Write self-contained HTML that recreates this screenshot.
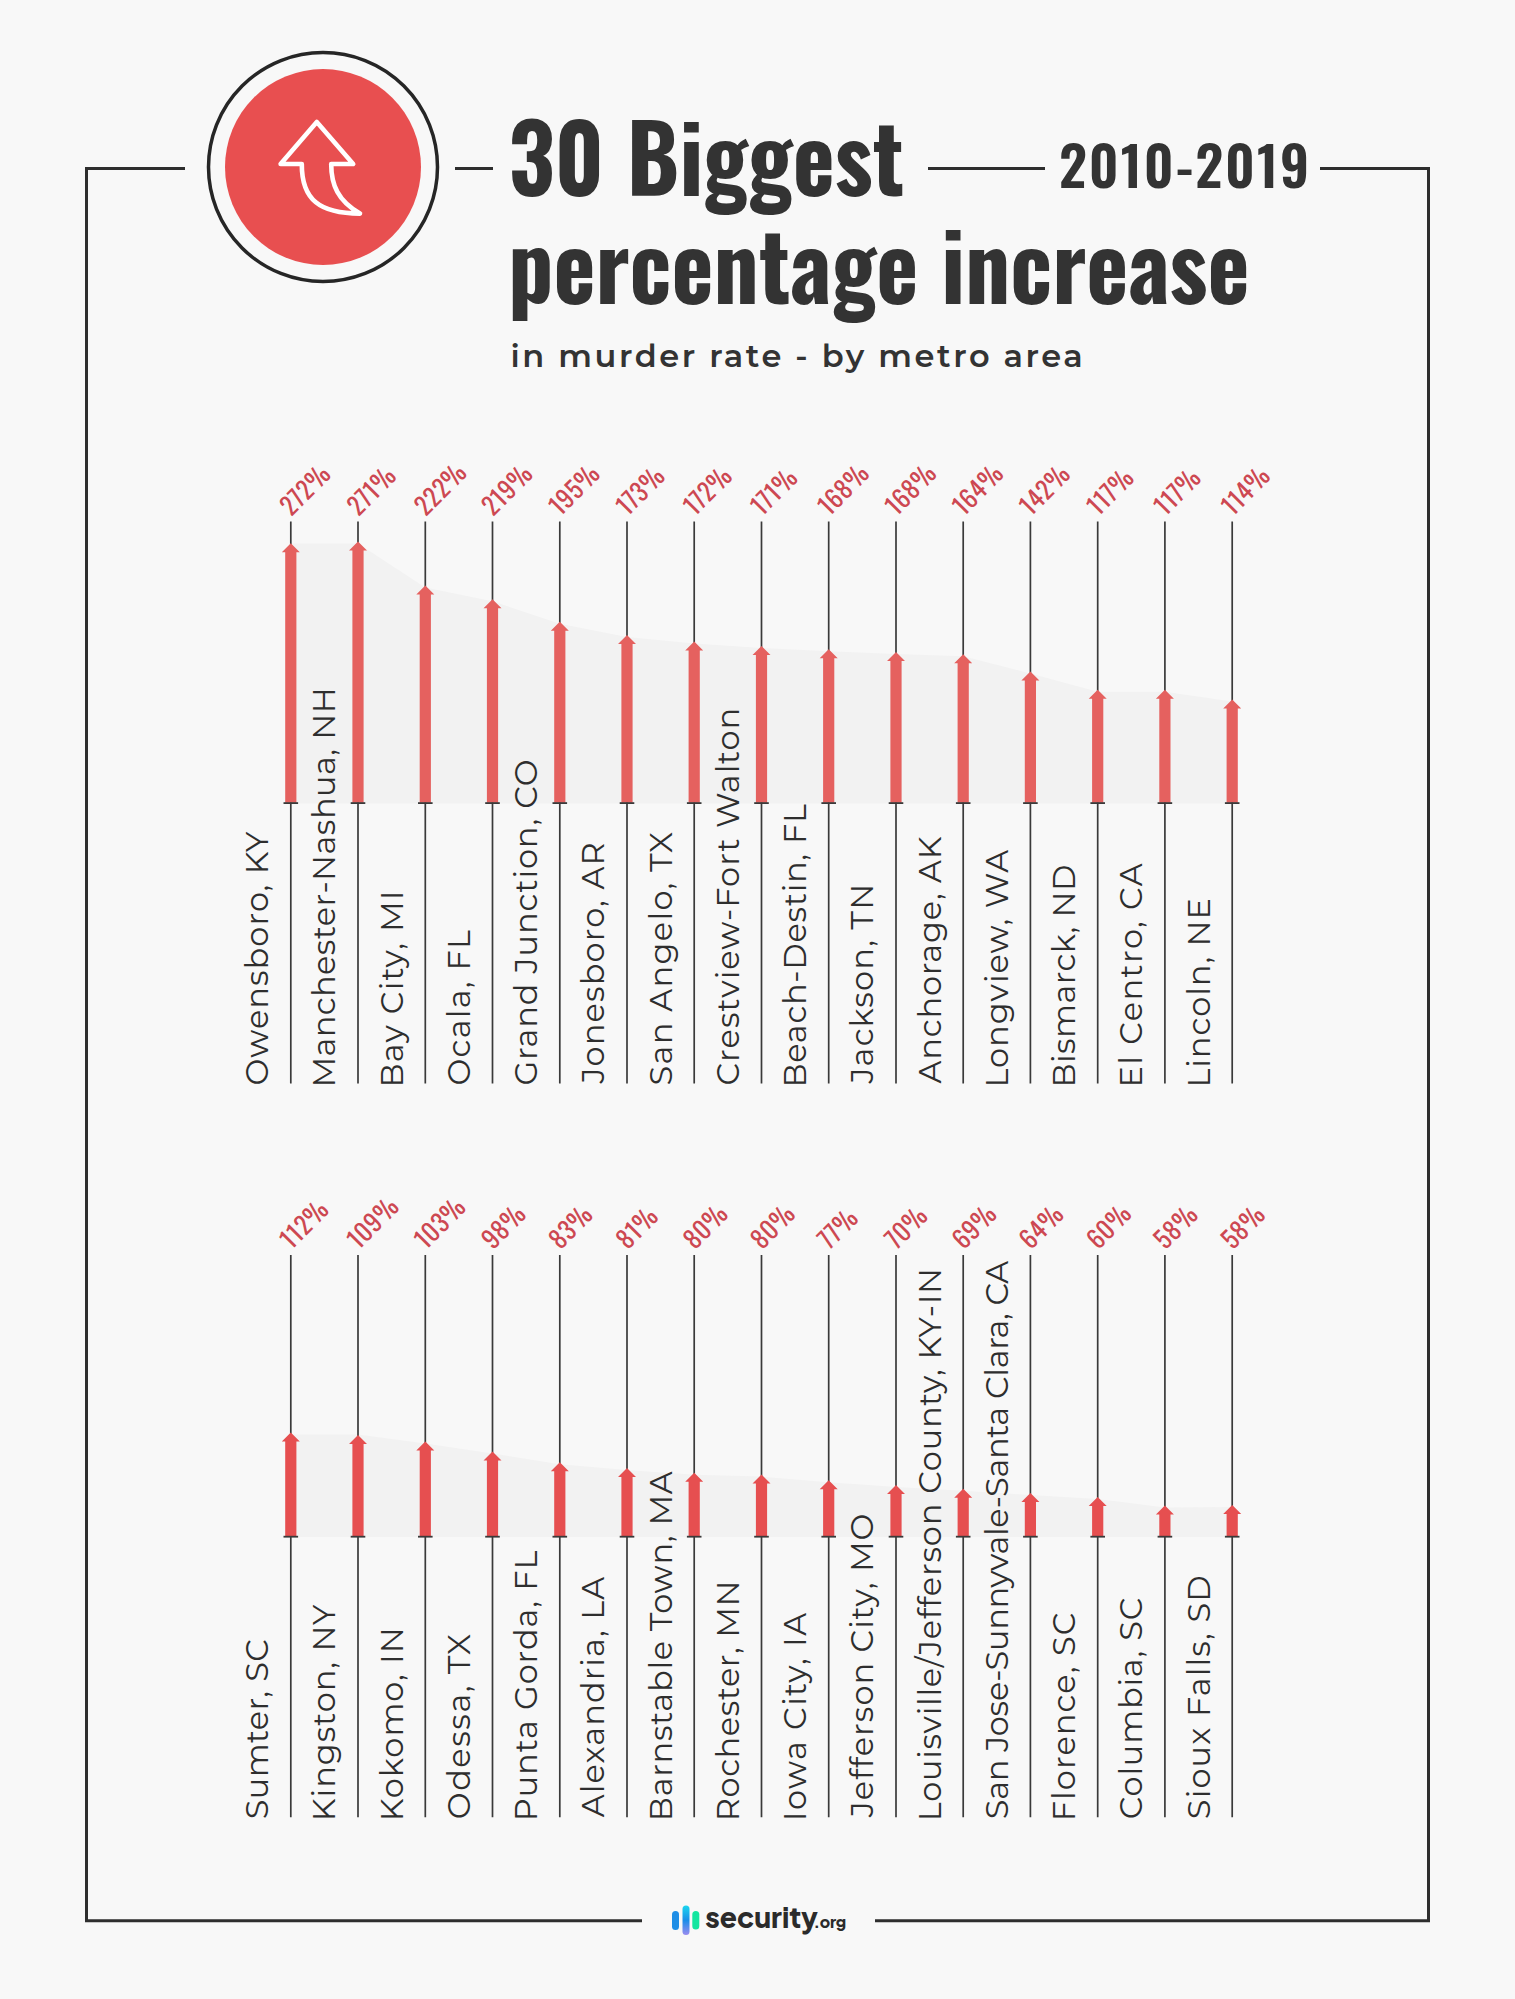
<!DOCTYPE html>
<html><head><meta charset="utf-8"><title>30 Biggest percentage increase in murder rate</title>
<style>
html,body{margin:0;padding:0;background:#f8f8f8;}
body{width:1515px;height:1999px;overflow:hidden;position:relative;}
svg{position:absolute;left:0;top:0;}
.t{font-family:"Oswald","Liberation Sans Narrow","Liberation Sans",sans-serif;font-weight:700;fill:#333333;}
.yr{font-family:"Oswald","Liberation Sans Narrow","Liberation Sans",sans-serif;font-weight:600;fill:#333333;}
.sub{font-family:"Montserrat","Liberation Sans",sans-serif;font-weight:600;fill:#333333;}
.lab{font-family:"Montserrat","Liberation Sans",sans-serif;font-weight:400;font-size:32px;fill:#2e2e2e;}
.pct{font-family:"Oswald","Liberation Sans Narrow","Liberation Sans",sans-serif;font-weight:430;font-size:25px;letter-spacing:0.6px;fill:#cd4852;}
.logo{font-family:"Plus Jakarta Sans","Montserrat","Liberation Sans",sans-serif;font-weight:800;fill:#2b2b2b;}
</style></head>
<body>
<svg width="1515" height="1999" viewBox="0 0 1515 1999">
<defs>
<linearGradient id="g2" x1="0" y1="0" x2="0" y2="1">
<stop offset="0" stop-color="#1bd6ef"/><stop offset="0.5" stop-color="#1a8ee8"/><stop offset="1" stop-color="#9b8cf0"/>
</linearGradient>
</defs>
<!-- frame -->
<path d="M185,168.5 H86.5 V1920.8 H642" fill="none" stroke="#2e2e2e" stroke-width="3"/>
<path d="M875,1920.8 H1428.5 V168.5 H1320" fill="none" stroke="#2e2e2e" stroke-width="3"/>
<line x1="455" y1="168.5" x2="493" y2="168.5" stroke="#2e2e2e" stroke-width="3"/>
<line x1="928" y1="168.5" x2="1045" y2="168.5" stroke="#2e2e2e" stroke-width="3"/>
<!-- icon -->
<circle cx="323" cy="167" r="114.5" fill="none" stroke="#262626" stroke-width="3.5"/>
<circle cx="323" cy="167" r="98" fill="#e84f50"/>
<path d="M316.8,122 L353.2,164 L331.2,164 C331.2,185 338,201 360,213.6 C320,213.6 301.6,200 301.8,164 L280.6,164 Z" fill="none" stroke="#ffffff" stroke-width="4.6" stroke-linejoin="round"/>
<!-- title -->
<text class="t" transform="translate(508.7,195.6)" font-size="93" textLength="395.35" lengthAdjust="spacingAndGlyphs">30 Biggest</text>
<text class="yr" x="1059" y="188.4" font-size="55" letter-spacing="2" textLength="252.25" lengthAdjust="spacingAndGlyphs">2010-2019</text>
<text class="t" transform="translate(508.2,304)" font-size="93" textLength="741.33" lengthAdjust="spacingAndGlyphs">percentage increase</text>
<text class="sub" x="510.5" y="366.6" font-size="32" letter-spacing="2.59" textLength="574.83" lengthAdjust="spacingAndGlyphs">in murder rate - by metro area</text>
<path d="M290.8,543.6 L358.0,543.6 L425.3,587.4 L492.5,601.3 L559.8,623.7 L627.0,637.0 L694.2,643.6 L761.5,648.0 L828.7,651.2 L896.0,653.9 L963.2,656.3 L1030.4,673.5 L1097.7,691.7 L1164.9,691.7 L1232.2,701.6 L1232.2,803.5 L290.8,803.5 Z" fill="#f2f2f2"/>
<line x1="290.8" y1="521.5" x2="290.8" y2="1083.6" stroke="#3a3a3a" stroke-width="1.7"/>
<line x1="358.0" y1="521.5" x2="358.0" y2="1083.6" stroke="#3a3a3a" stroke-width="1.7"/>
<line x1="425.3" y1="521.5" x2="425.3" y2="1083.6" stroke="#3a3a3a" stroke-width="1.7"/>
<line x1="492.5" y1="521.5" x2="492.5" y2="1083.6" stroke="#3a3a3a" stroke-width="1.7"/>
<line x1="559.8" y1="521.5" x2="559.8" y2="1083.6" stroke="#3a3a3a" stroke-width="1.7"/>
<line x1="627.0" y1="521.5" x2="627.0" y2="1083.6" stroke="#3a3a3a" stroke-width="1.7"/>
<line x1="694.2" y1="521.5" x2="694.2" y2="1083.6" stroke="#3a3a3a" stroke-width="1.7"/>
<line x1="761.5" y1="521.5" x2="761.5" y2="1083.6" stroke="#3a3a3a" stroke-width="1.7"/>
<line x1="828.7" y1="521.5" x2="828.7" y2="1083.6" stroke="#3a3a3a" stroke-width="1.7"/>
<line x1="896.0" y1="521.5" x2="896.0" y2="1083.6" stroke="#3a3a3a" stroke-width="1.7"/>
<line x1="963.2" y1="521.5" x2="963.2" y2="1083.6" stroke="#3a3a3a" stroke-width="1.7"/>
<line x1="1030.4" y1="521.5" x2="1030.4" y2="1083.6" stroke="#3a3a3a" stroke-width="1.7"/>
<line x1="1097.7" y1="521.5" x2="1097.7" y2="1083.6" stroke="#3a3a3a" stroke-width="1.7"/>
<line x1="1164.9" y1="521.5" x2="1164.9" y2="1083.6" stroke="#3a3a3a" stroke-width="1.7"/>
<line x1="1232.2" y1="521.5" x2="1232.2" y2="1083.6" stroke="#3a3a3a" stroke-width="1.7"/>
<path d="M290.8,543.2 L299.8,552.2 L296.4,552.2 L296.4,802.7 L285.2,802.7 L285.2,552.2 L281.8,552.2 Z" fill="#e5615f"/>
<rect x="283.5" y="802.2" width="14.6" height="1.8" fill="#3a3a3a"/>
<path d="M358.0,541.6 L367.0,550.6 L363.6,550.6 L363.6,802.7 L352.4,802.7 L352.4,550.6 L349.0,550.6 Z" fill="#e5615f"/>
<rect x="350.7" y="802.2" width="14.6" height="1.8" fill="#3a3a3a"/>
<path d="M425.3,585.4 L434.3,594.4 L430.9,594.4 L430.9,802.7 L419.7,802.7 L419.7,594.4 L416.3,594.4 Z" fill="#e5615f"/>
<rect x="418.0" y="802.2" width="14.6" height="1.8" fill="#3a3a3a"/>
<path d="M492.5,599.3 L501.5,608.3 L498.1,608.3 L498.1,802.7 L486.9,802.7 L486.9,608.3 L483.5,608.3 Z" fill="#e5615f"/>
<rect x="485.2" y="802.2" width="14.6" height="1.8" fill="#3a3a3a"/>
<path d="M559.8,621.7 L568.8,630.7 L565.4,630.7 L565.4,802.7 L554.2,802.7 L554.2,630.7 L550.8,630.7 Z" fill="#e5615f"/>
<rect x="552.5" y="802.2" width="14.6" height="1.8" fill="#3a3a3a"/>
<path d="M627.0,635.0 L636.0,644.0 L632.6,644.0 L632.6,802.7 L621.4,802.7 L621.4,644.0 L618.0,644.0 Z" fill="#e5615f"/>
<rect x="619.7" y="802.2" width="14.6" height="1.8" fill="#3a3a3a"/>
<path d="M694.2,641.6 L703.2,650.6 L699.8,650.6 L699.8,802.7 L688.6,802.7 L688.6,650.6 L685.2,650.6 Z" fill="#e5615f"/>
<rect x="686.9" y="802.2" width="14.6" height="1.8" fill="#3a3a3a"/>
<path d="M761.5,646.0 L770.5,655.0 L767.1,655.0 L767.1,802.7 L755.9,802.7 L755.9,655.0 L752.5,655.0 Z" fill="#e5615f"/>
<rect x="754.2" y="802.2" width="14.6" height="1.8" fill="#3a3a3a"/>
<path d="M828.7,649.2 L837.7,658.2 L834.3,658.2 L834.3,802.7 L823.1,802.7 L823.1,658.2 L819.7,658.2 Z" fill="#e5615f"/>
<rect x="821.4" y="802.2" width="14.6" height="1.8" fill="#3a3a3a"/>
<path d="M896.0,651.9 L905.0,660.9 L901.6,660.9 L901.6,802.7 L890.4,802.7 L890.4,660.9 L887.0,660.9 Z" fill="#e5615f"/>
<rect x="888.7" y="802.2" width="14.6" height="1.8" fill="#3a3a3a"/>
<path d="M963.2,654.3 L972.2,663.3 L968.8,663.3 L968.8,802.7 L957.6,802.7 L957.6,663.3 L954.2,663.3 Z" fill="#e5615f"/>
<rect x="955.9" y="802.2" width="14.6" height="1.8" fill="#3a3a3a"/>
<path d="M1030.4,671.5 L1039.4,680.5 L1036.0,680.5 L1036.0,802.7 L1024.8,802.7 L1024.8,680.5 L1021.4,680.5 Z" fill="#e5615f"/>
<rect x="1023.1" y="802.2" width="14.6" height="1.8" fill="#3a3a3a"/>
<path d="M1097.7,689.7 L1106.7,698.7 L1103.3,698.7 L1103.3,802.7 L1092.1,802.7 L1092.1,698.7 L1088.7,698.7 Z" fill="#e5615f"/>
<rect x="1090.4" y="802.2" width="14.6" height="1.8" fill="#3a3a3a"/>
<path d="M1164.9,689.7 L1173.9,698.7 L1170.5,698.7 L1170.5,802.7 L1159.3,802.7 L1159.3,698.7 L1155.9,698.7 Z" fill="#e5615f"/>
<rect x="1157.6" y="802.2" width="14.6" height="1.8" fill="#3a3a3a"/>
<path d="M1232.2,699.6 L1241.2,708.6 L1237.8,708.6 L1237.8,802.7 L1226.6,802.7 L1226.6,708.6 L1223.2,708.6 Z" fill="#e5615f"/>
<rect x="1224.9" y="802.2" width="14.6" height="1.8" fill="#3a3a3a"/>
<text class="lab" letter-spacing="1.03" transform="translate(268.1,1085.6) rotate(-90)" textLength="254.97" lengthAdjust="spacingAndGlyphs">Owensboro, KY</text>
<text class="pct" transform="translate(291.5,517.0) rotate(-45)" textLength="58.23" lengthAdjust="spacingAndGlyphs">272%</text>
<text class="lab" letter-spacing="0.44" transform="translate(335.3,1087.6) rotate(-90)" textLength="400.81" lengthAdjust="spacingAndGlyphs">Manchester-Nashua, NH</text>
<text class="pct" transform="translate(358.7,517.0) rotate(-45)" textLength="55.73" lengthAdjust="spacingAndGlyphs">271%</text>
<text class="lab" letter-spacing="1.31" transform="translate(402.6,1087.6) rotate(-90)" textLength="198.38" lengthAdjust="spacingAndGlyphs">Bay City, MI</text>
<text class="pct" transform="translate(426.0,517.0) rotate(-45)" textLength="60.53" lengthAdjust="spacingAndGlyphs">222%</text>
<text class="lab" letter-spacing="1.24" transform="translate(469.8,1085.6) rotate(-90)" textLength="156.67" lengthAdjust="spacingAndGlyphs">Ocala, FL</text>
<text class="pct" transform="translate(493.2,517.0) rotate(-45)" textLength="58.64" lengthAdjust="spacingAndGlyphs">219%</text>
<text class="lab" letter-spacing="0.89" transform="translate(537.1,1085.6) rotate(-90)" textLength="327.14" lengthAdjust="spacingAndGlyphs">Grand Junction, CO</text>
<text class="pct" transform="translate(560.5,517.0) rotate(-45)" textLength="58.58" lengthAdjust="spacingAndGlyphs">195%</text>
<text class="lab" letter-spacing="1.13" transform="translate(604.3,1083.6) rotate(-90)" textLength="242.39" lengthAdjust="spacingAndGlyphs">Jonesboro, AR</text>
<text class="pct" transform="translate(627.7,517.0) rotate(-45)" textLength="55.39" lengthAdjust="spacingAndGlyphs">173%</text>
<text class="lab" letter-spacing="1.34" transform="translate(671.5,1085.6) rotate(-90)" textLength="254.94" lengthAdjust="spacingAndGlyphs">San Angelo, TX</text>
<text class="pct" transform="translate(694.9,517.0) rotate(-45)" textLength="55.41" lengthAdjust="spacingAndGlyphs">172%</text>
<text class="lab" letter-spacing="1.03" transform="translate(738.8,1085.6) rotate(-90)" textLength="378.81" lengthAdjust="spacingAndGlyphs">Crestview-Fort Walton</text>
<text class="pct" transform="translate(762.2,517.0) rotate(-45)" textLength="52.91" lengthAdjust="spacingAndGlyphs">171%</text>
<text class="lab" letter-spacing="0.74" transform="translate(806.0,1087.6) rotate(-90)" textLength="284.20" lengthAdjust="spacingAndGlyphs">Beach-Destin, FL</text>
<text class="pct" transform="translate(829.4,517.0) rotate(-45)" textLength="59.19" lengthAdjust="spacingAndGlyphs">168%</text>
<text class="lab" letter-spacing="1.16" transform="translate(873.3,1083.6) rotate(-90)" textLength="200.94" lengthAdjust="spacingAndGlyphs">Jackson, TN</text>
<text class="pct" transform="translate(896.7,517.0) rotate(-45)" textLength="59.19" lengthAdjust="spacingAndGlyphs">168%</text>
<text class="lab" letter-spacing="0.88" transform="translate(940.5,1083.6) rotate(-90)" textLength="248.02" lengthAdjust="spacingAndGlyphs">Anchorage, AK</text>
<text class="pct" transform="translate(963.9,517.0) rotate(-45)" textLength="58.78" lengthAdjust="spacingAndGlyphs">164%</text>
<text class="lab" letter-spacing="1.00" transform="translate(1007.7,1087.6) rotate(-90)" textLength="238.73" lengthAdjust="spacingAndGlyphs">Longview, WA</text>
<text class="pct" transform="translate(1031.1,517.0) rotate(-45)" textLength="58.16" lengthAdjust="spacingAndGlyphs">142%</text>
<text class="lab" letter-spacing="0.42" transform="translate(1075.0,1087.6) rotate(-90)" textLength="223.50" lengthAdjust="spacingAndGlyphs">Bismarck, ND</text>
<text class="pct" transform="translate(1098.4,517.0) rotate(-45)" textLength="52.91" lengthAdjust="spacingAndGlyphs">117%</text>
<text class="lab" letter-spacing="1.47" transform="translate(1142.2,1087.6) rotate(-90)" textLength="225.67" lengthAdjust="spacingAndGlyphs">El Centro, CA</text>
<text class="pct" transform="translate(1165.6,517.0) rotate(-45)" textLength="52.91" lengthAdjust="spacingAndGlyphs">117%</text>
<text class="lab" letter-spacing="0.99" transform="translate(1209.5,1087.6) rotate(-90)" textLength="190.61" lengthAdjust="spacingAndGlyphs">Lincoln, NE</text>
<text class="pct" transform="translate(1232.9,517.0) rotate(-45)" textLength="55.66" lengthAdjust="spacingAndGlyphs">114%</text>
<path d="M290.8,1434.5 L358.0,1434.5 L425.3,1443.5 L492.5,1453.4 L559.8,1464.2 L627.0,1469.9 L694.2,1474.8 L761.5,1476.6 L828.7,1482.2 L896.0,1487.0 L963.2,1490.8 L1030.4,1494.9 L1097.7,1499.0 L1164.9,1507.6 L1232.2,1506.9 L1232.2,1537.1 L290.8,1537.1 Z" fill="#f2f2f2"/>
<line x1="290.8" y1="1255.0" x2="290.8" y2="1817.2" stroke="#3a3a3a" stroke-width="1.7"/>
<line x1="358.0" y1="1255.0" x2="358.0" y2="1817.2" stroke="#3a3a3a" stroke-width="1.7"/>
<line x1="425.3" y1="1255.0" x2="425.3" y2="1817.2" stroke="#3a3a3a" stroke-width="1.7"/>
<line x1="492.5" y1="1255.0" x2="492.5" y2="1817.2" stroke="#3a3a3a" stroke-width="1.7"/>
<line x1="559.8" y1="1255.0" x2="559.8" y2="1817.2" stroke="#3a3a3a" stroke-width="1.7"/>
<line x1="627.0" y1="1255.0" x2="627.0" y2="1817.2" stroke="#3a3a3a" stroke-width="1.7"/>
<line x1="694.2" y1="1255.0" x2="694.2" y2="1817.2" stroke="#3a3a3a" stroke-width="1.7"/>
<line x1="761.5" y1="1255.0" x2="761.5" y2="1817.2" stroke="#3a3a3a" stroke-width="1.7"/>
<line x1="828.7" y1="1255.0" x2="828.7" y2="1817.2" stroke="#3a3a3a" stroke-width="1.7"/>
<line x1="896.0" y1="1255.0" x2="896.0" y2="1817.2" stroke="#3a3a3a" stroke-width="1.7"/>
<line x1="963.2" y1="1255.0" x2="963.2" y2="1817.2" stroke="#3a3a3a" stroke-width="1.7"/>
<line x1="1030.4" y1="1255.0" x2="1030.4" y2="1817.2" stroke="#3a3a3a" stroke-width="1.7"/>
<line x1="1097.7" y1="1255.0" x2="1097.7" y2="1817.2" stroke="#3a3a3a" stroke-width="1.7"/>
<line x1="1164.9" y1="1255.0" x2="1164.9" y2="1817.2" stroke="#3a3a3a" stroke-width="1.7"/>
<line x1="1232.2" y1="1255.0" x2="1232.2" y2="1817.2" stroke="#3a3a3a" stroke-width="1.7"/>
<path d="M290.8,1432.5 L299.8,1441.5 L296.4,1441.5 L296.4,1536.3 L285.2,1536.3 L285.2,1441.5 L281.8,1441.5 Z" fill="#e64f50"/>
<rect x="283.5" y="1535.8" width="14.6" height="1.8" fill="#3a3a3a"/>
<path d="M358.0,1434.9 L367.0,1443.9 L363.6,1443.9 L363.6,1536.3 L352.4,1536.3 L352.4,1443.9 L349.0,1443.9 Z" fill="#e64f50"/>
<rect x="350.7" y="1535.8" width="14.6" height="1.8" fill="#3a3a3a"/>
<path d="M425.3,1441.5 L434.3,1450.5 L430.9,1450.5 L430.9,1536.3 L419.7,1536.3 L419.7,1450.5 L416.3,1450.5 Z" fill="#e64f50"/>
<rect x="418.0" y="1535.8" width="14.6" height="1.8" fill="#3a3a3a"/>
<path d="M492.5,1451.4 L501.5,1460.4 L498.1,1460.4 L498.1,1536.3 L486.9,1536.3 L486.9,1460.4 L483.5,1460.4 Z" fill="#e64f50"/>
<rect x="485.2" y="1535.8" width="14.6" height="1.8" fill="#3a3a3a"/>
<path d="M559.8,1462.2 L568.8,1471.2 L565.4,1471.2 L565.4,1536.3 L554.2,1536.3 L554.2,1471.2 L550.8,1471.2 Z" fill="#e64f50"/>
<rect x="552.5" y="1535.8" width="14.6" height="1.8" fill="#3a3a3a"/>
<path d="M627.0,1467.9 L636.0,1476.9 L632.6,1476.9 L632.6,1536.3 L621.4,1536.3 L621.4,1476.9 L618.0,1476.9 Z" fill="#e64f50"/>
<rect x="619.7" y="1535.8" width="14.6" height="1.8" fill="#3a3a3a"/>
<path d="M694.2,1472.8 L703.2,1481.8 L699.8,1481.8 L699.8,1536.3 L688.6,1536.3 L688.6,1481.8 L685.2,1481.8 Z" fill="#e64f50"/>
<rect x="686.9" y="1535.8" width="14.6" height="1.8" fill="#3a3a3a"/>
<path d="M761.5,1474.6 L770.5,1483.6 L767.1,1483.6 L767.1,1536.3 L755.9,1536.3 L755.9,1483.6 L752.5,1483.6 Z" fill="#e64f50"/>
<rect x="754.2" y="1535.8" width="14.6" height="1.8" fill="#3a3a3a"/>
<path d="M828.7,1480.2 L837.7,1489.2 L834.3,1489.2 L834.3,1536.3 L823.1,1536.3 L823.1,1489.2 L819.7,1489.2 Z" fill="#e64f50"/>
<rect x="821.4" y="1535.8" width="14.6" height="1.8" fill="#3a3a3a"/>
<path d="M896.0,1485.0 L905.0,1494.0 L901.6,1494.0 L901.6,1536.3 L890.4,1536.3 L890.4,1494.0 L887.0,1494.0 Z" fill="#e64f50"/>
<rect x="888.7" y="1535.8" width="14.6" height="1.8" fill="#3a3a3a"/>
<path d="M963.2,1488.8 L972.2,1497.8 L968.8,1497.8 L968.8,1536.3 L957.6,1536.3 L957.6,1497.8 L954.2,1497.8 Z" fill="#e64f50"/>
<rect x="955.9" y="1535.8" width="14.6" height="1.8" fill="#3a3a3a"/>
<path d="M1030.4,1492.9 L1039.4,1501.9 L1036.0,1501.9 L1036.0,1536.3 L1024.8,1536.3 L1024.8,1501.9 L1021.4,1501.9 Z" fill="#e64f50"/>
<rect x="1023.1" y="1535.8" width="14.6" height="1.8" fill="#3a3a3a"/>
<path d="M1097.7,1497.0 L1106.7,1506.0 L1103.3,1506.0 L1103.3,1536.3 L1092.1,1536.3 L1092.1,1506.0 L1088.7,1506.0 Z" fill="#e64f50"/>
<rect x="1090.4" y="1535.8" width="14.6" height="1.8" fill="#3a3a3a"/>
<path d="M1164.9,1505.6 L1173.9,1514.6 L1170.5,1514.6 L1170.5,1536.3 L1159.3,1536.3 L1159.3,1514.6 L1155.9,1514.6 Z" fill="#e64f50"/>
<rect x="1157.6" y="1535.8" width="14.6" height="1.8" fill="#3a3a3a"/>
<path d="M1232.2,1504.9 L1241.2,1513.9 L1237.8,1513.9 L1237.8,1536.3 L1226.6,1536.3 L1226.6,1513.9 L1223.2,1513.9 Z" fill="#e64f50"/>
<rect x="1224.9" y="1535.8" width="14.6" height="1.8" fill="#3a3a3a"/>
<text class="lab" letter-spacing="0.36" transform="translate(268.1,1819.2) rotate(-90)" textLength="180.52" lengthAdjust="spacingAndGlyphs">Sumter, SC</text>
<text class="pct" transform="translate(291.5,1250.5) rotate(-45)" textLength="55.53" lengthAdjust="spacingAndGlyphs">112%</text>
<text class="lab" letter-spacing="0.99" transform="translate(335.3,1821.2) rotate(-90)" textLength="217.53" lengthAdjust="spacingAndGlyphs">Kingston, NY</text>
<text class="pct" transform="translate(358.7,1250.5) rotate(-45)" textLength="59.61" lengthAdjust="spacingAndGlyphs">109%</text>
<text class="lab" letter-spacing="1.00" transform="translate(402.6,1821.2) rotate(-90)" textLength="194.97" lengthAdjust="spacingAndGlyphs">Kokomo, IN</text>
<text class="pct" transform="translate(426.0,1250.5) rotate(-45)" textLength="58.98" lengthAdjust="spacingAndGlyphs">103%</text>
<text class="lab" letter-spacing="1.51" transform="translate(469.8,1819.2) rotate(-90)" textLength="186.66" lengthAdjust="spacingAndGlyphs">Odessa, TX</text>
<text class="pct" transform="translate(493.2,1250.5) rotate(-45)" textLength="49.11" lengthAdjust="spacingAndGlyphs">98%</text>
<text class="lab" letter-spacing="0.91" transform="translate(537.1,1821.2) rotate(-90)" textLength="271.45" lengthAdjust="spacingAndGlyphs">Punta Gorda, FL</text>
<text class="pct" transform="translate(560.5,1250.5) rotate(-45)" textLength="48.48" lengthAdjust="spacingAndGlyphs">83%</text>
<text class="lab" letter-spacing="1.07" transform="translate(604.3,1817.2) rotate(-90)" textLength="241.39" lengthAdjust="spacingAndGlyphs">Alexandria, LA</text>
<text class="pct" transform="translate(627.7,1250.5) rotate(-45)" textLength="46.02" lengthAdjust="spacingAndGlyphs">81%</text>
<text class="lab" letter-spacing="0.73" transform="translate(671.5,1821.2) rotate(-90)" textLength="350.59" lengthAdjust="spacingAndGlyphs">Barnstable Town, MA</text>
<text class="pct" transform="translate(694.9,1250.5) rotate(-45)" textLength="49.48" lengthAdjust="spacingAndGlyphs">80%</text>
<text class="lab" letter-spacing="0.60" transform="translate(738.8,1821.2) rotate(-90)" textLength="241.33" lengthAdjust="spacingAndGlyphs">Rochester, MN</text>
<text class="pct" transform="translate(762.2,1250.5) rotate(-45)" textLength="49.48" lengthAdjust="spacingAndGlyphs">80%</text>
<text class="lab" letter-spacing="1.45" transform="translate(806.0,1821.2) rotate(-90)" textLength="209.78" lengthAdjust="spacingAndGlyphs">Iowa City, IA</text>
<text class="pct" transform="translate(829.4,1250.5) rotate(-45)" textLength="43.39" lengthAdjust="spacingAndGlyphs">77%</text>
<text class="lab" letter-spacing="1.01" transform="translate(873.3,1817.2) rotate(-90)" textLength="304.52" lengthAdjust="spacingAndGlyphs">Jefferson City, MO</text>
<text class="pct" transform="translate(896.7,1250.5) rotate(-45)" textLength="46.66" lengthAdjust="spacingAndGlyphs">70%</text>
<text class="lab" letter-spacing="0.75" transform="translate(940.5,1821.2) rotate(-90)" textLength="554.02" lengthAdjust="spacingAndGlyphs">Louisville/Jefferson County, KY-IN</text>
<text class="pct" transform="translate(963.9,1250.5) rotate(-45)" textLength="49.08" lengthAdjust="spacingAndGlyphs">69%</text>
<text class="lab" letter-spacing="-0.31" transform="translate(1007.7,1819.2) rotate(-90)" textLength="558.20" lengthAdjust="spacingAndGlyphs">San Jose-Sunnyvale-Santa Clara, CA</text>
<text class="pct" transform="translate(1031.1,1250.5) rotate(-45)" textLength="48.73" lengthAdjust="spacingAndGlyphs">64%</text>
<text class="lab" letter-spacing="1.06" transform="translate(1075.0,1821.2) rotate(-90)" textLength="209.64" lengthAdjust="spacingAndGlyphs">Florence, SC</text>
<text class="pct" transform="translate(1098.4,1250.5) rotate(-45)" textLength="49.58" lengthAdjust="spacingAndGlyphs">60%</text>
<text class="lab" letter-spacing="0.81" transform="translate(1142.2,1819.2) rotate(-90)" textLength="222.53" lengthAdjust="spacingAndGlyphs">Columbia, SC</text>
<text class="pct" transform="translate(1165.6,1250.5) rotate(-45)" textLength="48.45" lengthAdjust="spacingAndGlyphs">58%</text>
<text class="lab" letter-spacing="1.15" transform="translate(1209.5,1819.2) rotate(-90)" textLength="245.16" lengthAdjust="spacingAndGlyphs">Sioux Falls, SD</text>
<text class="pct" transform="translate(1232.9,1250.5) rotate(-45)" textLength="48.45" lengthAdjust="spacingAndGlyphs">58%</text>
<!-- logo -->
<rect x="672" y="1911" width="7" height="19" rx="3.5" fill="#1e8ee6"/>
<rect x="682.5" y="1905.6" width="7" height="29.5" rx="3.5" fill="url(#g2)"/>
<rect x="692.3" y="1911" width="7" height="18.5" rx="3.5" fill="#14e6a0"/>
<text class="logo" x="705.2" y="1928" font-size="28.2" textLength="112.91" lengthAdjust="spacingAndGlyphs">security</text>
<text class="logo" x="813.6" y="1928" font-size="16" font-weight="600" letter-spacing="-0.3" textLength="32.30" lengthAdjust="spacingAndGlyphs">.org</text>
</svg>
</body></html>
